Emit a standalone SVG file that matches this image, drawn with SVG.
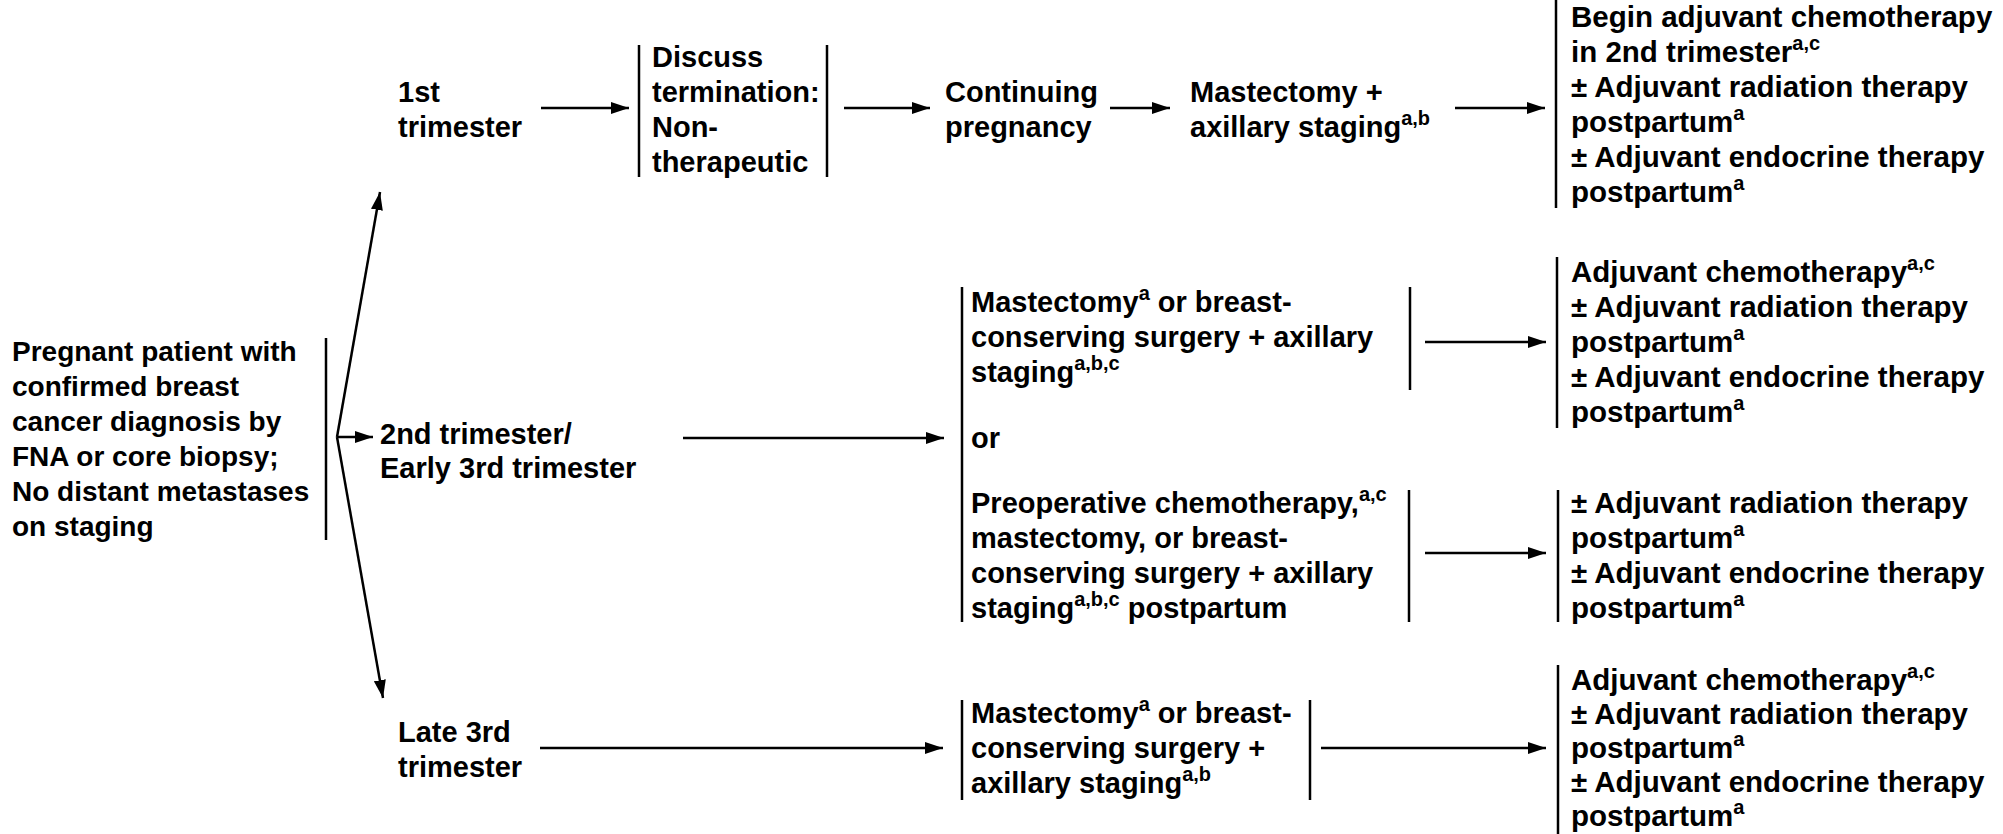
<svg xmlns="http://www.w3.org/2000/svg" width="2003" height="834" viewBox="0 0 2003 834">
<style>
text{font-family:"Liberation Sans",Arial,sans-serif;font-weight:bold;font-size:29px;fill:#000}
.l{font-size:28px}
.r{font-size:29.5px}
.s{font-size:20px}
.bar{stroke:#000;stroke-width:2.5;fill:none}
.c{stroke:#000;stroke-width:2.5;fill:none;marker-end:url(#ah)}
</style>
<defs>
<marker id="ah" markerUnits="userSpaceOnUse" markerWidth="18" markerHeight="12" refX="18" refY="6" orient="auto">
<path d="M0,0 L18,6 L0,12 z" fill="#000"/>
</marker>
</defs>
<rect width="2003" height="834" fill="#fff"/>
<g id="connectors">
<path class="c" d="M337,437 L380,192"/>
<path class="c" d="M337,437 L373,437"/>
<path class="c" d="M337,437 L383,698"/>
<path class="c" d="M541,108 L629,108"/>
<path class="c" d="M844,108 L930,108"/>
<path class="c" d="M1110,108 L1170,108"/>
<path class="c" d="M1455,108 L1545,108"/>
<path class="c" d="M683,438 L944,438"/>
<path class="c" d="M1425,342 L1546,342"/>
<path class="c" d="M1425,553 L1546,553"/>
<path class="c" d="M540,748 L943,748"/>
<path class="c" d="M1321,748 L1546,748"/>
</g>
<g id="n-start">
<line class="bar" x1="326" y1="338" x2="326" y2="540"/>
<text class="l" x="12" y="361">Pregnant patient with</text>
<text class="l" x="12" y="396">confirmed breast</text>
<text class="l" x="12" y="431">cancer diagnosis by</text>
<text class="l" x="12" y="466">FNA or core biopsy;</text>
<text class="l" x="12" y="501">No distant metastases</text>
<text class="l" x="12" y="536">on staging</text>
</g>
<g id="n-1st">
<text x="398" y="102">1st</text>
<text x="398" y="137">trimester</text>
</g>
<g id="n-discuss">
<line class="bar" x1="639" y1="45" x2="639" y2="177"/>
<line class="bar" x1="827" y1="45" x2="827" y2="177"/>
<text x="652" y="67">Discuss</text>
<text x="652" y="102">termination:</text>
<text x="652" y="137">Non-</text>
<text x="652" y="172">therapeutic</text>
</g>
<g id="n-continuing">
<text x="945" y="102">Continuing</text>
<text x="945" y="137">pregnancy</text>
</g>
<g id="n-mast1">
<text x="1190" y="102">Mastectomy +</text>
<text x="1190" y="137">axillary staging<tspan class="s" dy="-12">a,b</tspan></text>
</g>
<g id="n-adjA">
<line class="bar" x1="1556" y1="0" x2="1556" y2="208"/>
<text class="r" x="1571" y="27">Begin adjuvant chemotherapy</text>
<text class="r" x="1571" y="62">in 2nd trimester<tspan class="s" dy="-12">a,c</tspan></text>
<text class="r" x="1571" y="97">± Adjuvant radiation therapy</text>
<text class="r" x="1571" y="132">postpartum<tspan class="s" dy="-12">a</tspan></text>
<text class="r" x="1571" y="167">± Adjuvant endocrine therapy</text>
<text class="r" x="1571" y="202">postpartum<tspan class="s" dy="-12">a</tspan></text>
</g>
<g id="n-2nd">
<text x="380" y="444">2nd trimester/</text>
<text x="380" y="478">Early 3rd trimester</text>
</g>
<g id="n-mid">
<line class="bar" x1="962" y1="287" x2="962" y2="622"/>
<line class="bar" x1="1410" y1="287" x2="1410" y2="390"/>
<line class="bar" x1="1409" y1="490" x2="1409" y2="622"/>
<text x="971" y="312">Mastectomy<tspan class="s" dy="-12">a</tspan><tspan dy="12"> or breast-</tspan></text>
<text x="971" y="347">conserving surgery + axillary</text>
<text x="971" y="382">staging<tspan class="s" dy="-12">a,b,c</tspan></text>
<text x="971" y="448">or</text>
<text x="971" y="513">Preoperative chemotherapy,<tspan class="s" dy="-12">a,c</tspan></text>
<text x="971" y="548">mastectomy, or breast-</text>
<text x="971" y="583">conserving surgery + axillary</text>
<text x="971" y="618">staging<tspan class="s" dy="-12">a,b,c</tspan><tspan dy="12"> postpartum</tspan></text>
</g>
<g id="n-adjB">
<line class="bar" x1="1557" y1="257" x2="1557" y2="428"/>
<text class="r" x="1571" y="282">Adjuvant chemotherapy<tspan class="s" dy="-12">a,c</tspan></text>
<text class="r" x="1571" y="317">± Adjuvant radiation therapy</text>
<text class="r" x="1571" y="352">postpartum<tspan class="s" dy="-12">a</tspan></text>
<text class="r" x="1571" y="387">± Adjuvant endocrine therapy</text>
<text class="r" x="1571" y="422">postpartum<tspan class="s" dy="-12">a</tspan></text>
</g>
<g id="n-adjC">
<line class="bar" x1="1558" y1="490" x2="1558" y2="622"/>
<text class="r" x="1571" y="513">± Adjuvant radiation therapy</text>
<text class="r" x="1571" y="548">postpartum<tspan class="s" dy="-12">a</tspan></text>
<text class="r" x="1571" y="583">± Adjuvant endocrine therapy</text>
<text class="r" x="1571" y="618">postpartum<tspan class="s" dy="-12">a</tspan></text>
</g>
<g id="n-late">
<text x="398" y="742">Late 3rd</text>
<text x="398" y="777">trimester</text>
</g>
<g id="n-mast3">
<line class="bar" x1="962" y1="700" x2="962" y2="800"/>
<line class="bar" x1="1310" y1="700" x2="1310" y2="800"/>
<text x="971" y="723">Mastectomy<tspan class="s" dy="-12">a</tspan><tspan dy="12"> or breast-</tspan></text>
<text x="971" y="758">conserving surgery +</text>
<text x="971" y="793">axillary staging<tspan class="s" dy="-12">a,b</tspan></text>
</g>
<g id="n-adjD">
<line class="bar" x1="1558" y1="665" x2="1558" y2="834"/>
<text class="r" x="1571" y="690">Adjuvant chemotherapy<tspan class="s" dy="-12">a,c</tspan></text>
<text class="r" x="1571" y="724">± Adjuvant radiation therapy</text>
<text class="r" x="1571" y="758">postpartum<tspan class="s" dy="-12">a</tspan></text>
<text class="r" x="1571" y="792">± Adjuvant endocrine therapy</text>
<text class="r" x="1571" y="826">postpartum<tspan class="s" dy="-12">a</tspan></text>
</g>
</svg>
